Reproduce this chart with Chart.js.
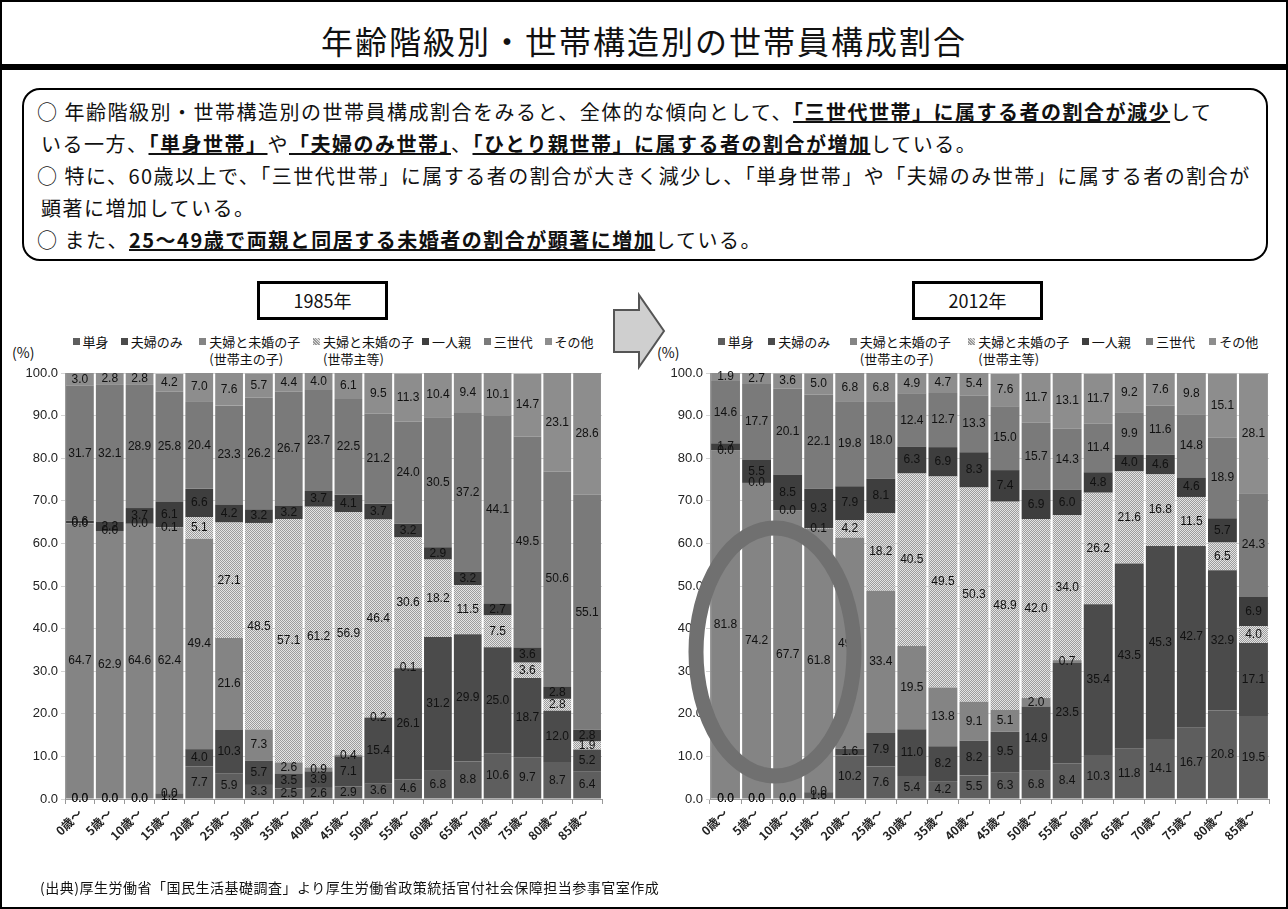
<!DOCTYPE html>
<html lang="ja">
<head>
<meta charset="utf-8">
<title>年齢階級別・世帯構造別の世帯員構成割合</title>
<script src="https://cdn.jsdelivr.net/npm/chart.js@4.4.1/dist/chart.umd.min.js"></script>
<style>
  html, body { margin: 0; padding: 0; background: #fff; }
  body { font-family: "Noto Sans CJK JP", "Noto Sans", sans-serif; color: #111; }
  #slide { position: relative; width: 1288px; height: 909px; box-sizing: border-box; border: 2px solid #000; overflow: hidden; }
  #title { position: absolute; left: 0; right: 0; top: 15px; text-align: center; font-size: 32px; letter-spacing: 2px; }
  #rule { position: absolute; left: 0; right: 0; top: 62px; height: 6px; background: #000; }
  #summary { position: absolute; left: 20px; top: 86px; width: 1246px; height: 173px; box-sizing: border-box;
             border: 2.5px solid #000; border-radius: 18px; padding: 6px 0 0 13px; font-size: 20px; line-height: 32px;
             letter-spacing: 1.5px; white-space: nowrap; }
  #summary .cont { padding-left: 4px; }
  #summary u { font-weight: bold; }
  .year { position: absolute; top: 279px; width: 131px; height: 39px; box-sizing: border-box; border: 3px solid #000;
          text-align: center; font-size: 18px; line-height: 33px; }
  .pct { position: absolute; top: 340px; font-size: 14px; }
  .legend { position: absolute; top: 331px; font-size: 13px; line-height: 17px; white-space: nowrap; }
  .legend i { display: inline-block; width: 7px; height: 7px; margin-right: 3px; vertical-align: 2px; }
  .legend .sub { display: block; padding-left: 10px; }
  .box { position: absolute; top: 330px; }
  #overlay { position: absolute; left: 0; top: 0; pointer-events: none; }
  #source { position: absolute; left: 38px; top: 875px; font-size: 14px; letter-spacing: 0.5px; }
</style>
</head>
<body>
<div id="slide">
  <div id="title">年齢階級別・世帯構造別の世帯員構成割合</div>
  <div id="rule"></div>
  <div id="summary">
    <div>○ 年齢階級別・世帯構造別の世帯員構成割合をみると、全体的な傾向として、<u>「三世代世帯」に属する者の割合が減少</u>して</div>
    <div class="cont">いる一方、<u>「単身世帯」</u>や<u>「夫婦のみ世帯」</u>、<u>「ひとり親世帯」に属する者の割合が増加</u>している。</div>
    <div>○ 特に、60歳以上で、「三世代世帯」に属する者の割合が大きく減少し、「単身世帯」や「夫婦のみ世帯」に属する者の割合が</div>
    <div class="cont">顕著に増加している。</div>
    <div>○ また、<u>25～49歳で両親と同居する未婚者の割合が顕著に増加</u>している。</div>
  </div>

  <div class="year" style="left:255px">1985年</div>
  <div class="year" style="left:910px">2012年</div>

  <div class="pct" style="left:10px">(%)</div>
  <div class="pct" style="left:655px">(%)</div>
  <div id="legend-left"></div>
  <div id="legend-right"></div>

  <div class="box" style="left:0px"><canvas id="chart-1985" width="640" height="530"></canvas></div>
  <div class="box" style="left:645px"><canvas id="chart-2012" width="643" height="530"></canvas></div>

  <svg id="overlay" width="1288" height="909">
    <polygon points="612,308 637,308 637,293 662,329 637,365 637,350 612,350" fill="#cfcfcf" stroke="#555" stroke-width="2"/>
    <ellipse cx="773" cy="650" rx="79" ry="124" fill="none" stroke="#707070" stroke-width="15"/>
  </svg>

  <div id="source">(出典)厚生労働省「国民生活基礎調査」より厚生労働省政策統括官付社会保障担当参事官室作成</div>
</div>

<script>
// ---- データ ----
const ageLabels = ["0歳～", "5歳～", "10歳～", "15歳～", "20歳～", "25歳～", "30歳～", "35歳～", "40歳～",
  "45歳～", "50歳～", "55歳～", "60歳～", "65歳～", "70歳～", "75歳～", "80歳～", "85歳～"];
const seriesNames = ["単身", "夫婦のみ", "夫婦と未婚の子|(世帯主の子)", "夫婦と未婚の子|(世帯主等)", "一人親", "三世代", "その他"];

// 1985年
const single1985 = [0.0, 0.0, 0.0, 1.2, 7.7, 5.9, 3.3, 2.5, 2.6, 2.9, 3.6, 4.6, 6.8, 8.8, 10.6, 9.7, 8.7, 6.4];
const couple1985 = [0.0, 0.0, 0.0, 0.0, 4.0, 10.3, 5.7, 3.5, 3.9, 7.1, 15.4, 26.1, 31.2, 29.9, 25.0, 18.7, 12.0, 5.2];
const childOfHead1985 = [64.7, 62.9, 64.6, 62.4, 49.4, 21.6, 7.3, 2.6, 0.9, 0.4, 0.2, 0.1, null, null, null, null, null, null];
const headEtc1985 = [0.0, 0.0, 0.0, 0.1, 5.1, 27.1, 48.5, 57.1, 61.2, 56.9, 46.4, 30.6, 18.2, 11.5, 7.5, 3.6, 2.8, 1.9];
const loneParent1985 = [0.6, 2.2, 3.7, 6.1, 6.6, 4.2, 3.2, 3.2, 3.7, 4.1, 3.7, 3.2, 2.9, 3.2, 2.7, 3.6, 2.8, 2.8];
const threeGen1985 = [31.7, 32.1, 28.9, 25.8, 20.4, 23.3, 26.2, 26.7, 23.7, 22.5, 21.2, 24.0, 30.5, 37.2, 44.1, 49.5, 50.6, 55.1];
const other1985 = [3.0, 2.8, 2.8, 4.2, 7.0, 7.6, 5.7, 4.4, 4.0, 6.1, 9.5, 11.3, 10.4, 9.4, 10.1, 14.7, 23.1, 28.6];

// 2012年
const single2012 = [0.0, 0.0, 0.0, 1.6, 10.2, 7.6, 5.4, 4.2, 5.5, 6.3, 6.8, 8.4, 10.3, 11.8, 14.1, 16.7, 20.8, 19.5];
const couple2012 = [0.0, 0.0, 0.0, 0.0, 1.6, 7.9, 11.0, 8.2, 8.2, 9.5, 14.9, 23.5, 35.4, 43.5, 45.3, 42.7, 32.9, 17.1];
const childOfHead2012 = [81.8, 74.2, 67.7, 61.8, 49.5, 33.4, 19.5, 13.8, 9.1, 5.1, 2.0, 0.7, null, null, null, null, null, null];
const headEtc2012 = [0.0, 0.0, 0.0, 0.1, 4.2, 18.2, 40.5, 49.5, 50.3, 48.9, 42.0, 34.0, 26.2, 21.6, 16.8, 11.5, 6.5, 4.0];
const loneParent2012 = [1.7, 5.5, 8.5, 9.3, 7.9, 8.1, 6.3, 6.9, 8.3, 7.4, 6.9, 6.0, 4.8, 4.0, 4.6, 4.6, 5.7, 6.9];
const threeGen2012 = [14.6, 17.7, 20.1, 22.1, 19.8, 18.0, 12.4, 12.7, 13.3, 15.0, 15.7, 14.3, 11.4, 9.9, 11.6, 14.8, 18.9, 24.3];
const other2012 = [1.9, 2.7, 3.6, 5.0, 6.8, 6.8, 4.9, 4.7, 5.4, 7.6, 11.7, 13.1, 11.7, 9.2, 7.6, 9.8, 15.1, 28.1];

const yTicks = [0, 10, 20, 30, 40, 50, 60, 70, 80, 90, 100];

// ---- 見た目 ----
const seriesColors = ["#5e5e5e", "#4b4b4b", "#848484", null, "#3e3e3e", "#7a7a7a", "#8d8d8d"];

// 夫婦と未婚の子（世帯主等）は網掛け
function dotPattern() {
  const c = document.createElement("canvas");
  c.width = 2; c.height = 2;
  const g = c.getContext("2d");
  g.fillStyle = "#e4e4e4";
  g.fillRect(0, 0, 2, 2);
  g.fillStyle = "#9c9c9c";
  g.fillRect(0, 0, 1, 1);
  g.fillRect(1, 1, 1, 1);
  return g.createPattern(c, "repeat");
}

// 各セグメントの中央に値を描く
const valueLabels = {
  id: "valueLabels",
  afterDatasetsDraw(chart) {
    const ctx = chart.ctx;
    ctx.save();
    ctx.font = '12px "Liberation Sans", Arial, sans-serif';
    ctx.fillStyle = "#111";
    ctx.textAlign = "center";
    ctx.textBaseline = "middle";
    chart.data.datasets.forEach((ds, i) => {
      chart.getDatasetMeta(i).data.forEach((bar, j) => {
        const v = ds.data[j];
        if (v == null) return;
        const { x, y, base } = bar.getProps(["x", "y", "base"], true);
        ctx.fillText(v.toFixed(1), x, (y + base) / 2);
      });
    });
    ctx.restore();
  },
};

function buildLegend(id, left, plotWidth) {
  const fracs = [0.014, 0.104, 0.25, 0.462, 0.665, 0.78, 0.893];
  const el = document.getElementById(id);
  seriesNames.forEach((name, i) => {
    const [main, sub] = name.split("|");
    const item = document.createElement("div");
    item.className = "legend";
    item.style.left = left + fracs[i] * plotWidth + "px";
    const bg = seriesColors[i] || "repeating-linear-gradient(45deg,#999 0 1px,#ddd 1px 2px)";
    item.innerHTML = `<i style="background:${bg}"></i>${main}` + (sub ? `<span class="sub">${sub}</span>` : "");
    el.appendChild(item);
  });
}

function initChart(canvasId, series, padRight) {
  const canvas = document.getElementById(canvasId);
  const ctx = canvas.getContext("2d");
  const pattern = dotPattern();

  const datasets = series.map((data, i) => ({
    label: seriesNames[i].replace("|", ""),
    data,
    backgroundColor: seriesColors[i] || pattern,
    borderWidth: 0,
    categoryPercentage: 1.0,
    barPercentage: 0.93,
  }));

  return new Chart(ctx, {
    type: "bar",
    data: { labels: ageLabels, datasets },
    options: {
      responsive: false,
      animation: false,
      devicePixelRatio: 1,
      layout: { padding: { top: 41, right: padRight, bottom: 0, left: 0 } },
      plugins: { legend: { display: false }, tooltip: { enabled: false } },
      scales: {
        x: {
          stacked: true,
          grid: { drawOnChartArea: false, tickLength: 5, color: "#999" },
          border: { color: "#999" },
          ticks: {
            maxRotation: 45,
            minRotation: 45,
            color: "#222",
            font: { size: 12, weight: "bold", family: '"Noto Sans CJK JP", sans-serif' },
            padding: 2,
          },
          afterFit: (scale) => { scale.height = 63; },
        },
        y: {
          stacked: true,
          min: 0,
          max: 100,
          afterBuildTicks: (scale) => { scale.ticks = yTicks.map((v) => ({ value: v })); },
          grid: { color: "#d4d4d4", tickLength: 4 },
          border: { color: "#999" },
          ticks: {
            color: "#222",
            font: { size: 13, family: '"Liberation Sans", Arial, sans-serif' },
            padding: 3,
            callback: (v) => Number(v).toFixed(1),
          },
          afterFit: (scale) => { scale.width = 63; },
        },
      },
    },
    plugins: [valueLabels],
  });
}

initChart("chart-1985",
  [single1985, couple1985, childOfHead1985, headEtc1985, loneParent1985, threeGen1985, other1985], 40);
initChart("chart-2012",
  [single2012, couple2012, childOfHead2012, headEtc2012, loneParent2012, threeGen2012, other2012], 21);

buildLegend("legend-left", 63, 537);
buildLegend("legend-right", 708, 559);
</script>
</body>
</html>
